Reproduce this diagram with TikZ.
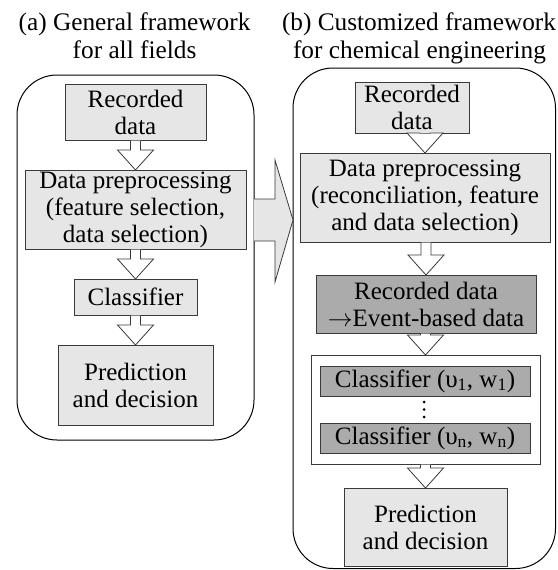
\documentclass[tikz,border=0pt]{standalone}
\usepackage{fontspec}
\setmainfont{Liberation Serif}
\usetikzlibrary{calc}
\definecolor{lightfill}{HTML}{E6E6E6}
\definecolor{darkfill}{HTML}{ABABAB}
\definecolor{edge}{HTML}{3A3A3A}
\newcommand\hollowarrow[2]{%
  \filldraw[harrow] let \p1=(#1.south), \p2=(#2.north) in
    (\x2-5pt,\y1-0.5pt) -- (\x2-5pt,\y2+20pt) -- (\x2-18pt,\y2+20pt) -- (\x2,\y2)
    -- (\x2+18pt,\y2+20pt) -- (\x2+5pt,\y2+20pt) -- (\x2+5pt,\y1-0.5pt);}
\begin{document}
\begin{tikzpicture}[x=1pt,y=-1pt,
  sz/.style 2 args={minimum width=#1pt, minimum height=#2pt},
  boxtext/.style={font=\fontsize{25}{27}\selectfont, align=center, inner sep=0pt, outer sep=0pt},
  lbox/.style={boxtext, draw=edge, line width=0.8pt, fill=lightfill},
  dbox/.style={boxtext, draw=edge, line width=0.8pt, fill=darkfill},
  wbox/.style={draw=edge, line width=0.9pt, fill=white, inner sep=0pt, outer sep=0pt},
  panel/.style={draw=black, line width=1pt, rounded corners=40pt, inner sep=0pt, outer sep=0pt},
  title/.style={font=\fontsize{25.3}{29}\selectfont, anchor=base, inner sep=0pt},
  harrow/.style={draw=edge, line width=0.8pt, fill=white},
  bigarrow/.style={draw=edge, line width=0.8pt, fill=lightfill},
]
\useasboundingbox (0,0) rectangle (557,570);
% panels
\node[panel, sz={237}{365}] (panA) at (135.5,257.5) {};
\node[panel, sz={262.5}{500.5}] (panB) at (424.25,318.25) {};
% titles
\node[title] (titA1) at (134.5,30) {(a) General framework};
\node[title] (titA2) at (134.5,58) {for all fields};
\node[title] (titB1) at (419,30) {(b) Customized framework};
\node[title] (titB2) at (419.5,58) {for chemical engineering};
% left column
\node[lbox, sz={141}{56}] (recA) at (135.5,112) {Recorded\\data};
\node[lbox, sz={221}{79}] (preA) at (135.5,209.5) {Data preprocessing\\(feature selection,\\data selection)};
\node[lbox, sz={123}{36}] (claA) at (135.5,297) {Classifier};
\node[lbox, sz={155}{80}] (predA) at (135.5,385) {Prediction\\and decision};
% right column
\node[lbox, sz={114}{51}] (recB) at (412,107.5) {Recorded\\data};
\node[lbox, sz={250}{89}] (preB) at (425,197.5) {Data preprocessing\\(reconciliation, feature\\and data selection)};
\node[dbox, sz={220}{58}] (evtB) at (426,304) {Recorded data\\$\rightarrow$Event-based data};
\node[wbox, sz={229}{109}] (clsB) at (425.5,409.5) {};
\node[dbox, sz={210}{30}] (cls1) at (425,381) {Classifier (υ\textsubscript{1}, w\textsubscript{1})};
\node[dbox, sz={210}{30}] (clsN) at (425,438) {Classifier (υ\textsubscript{n}, w\textsubscript{n})};
\fill[black] (424,402) circle[radius=1.5pt] (424,409.5) circle[radius=1.5pt] (424,417) circle[radius=1.5pt];
\node[lbox, sz={163}{78}] (predB) at (425.5,527) {Prediction\\and decision};
% hollow arrows
\hollowarrow{recA}{preA}
\hollowarrow{preA}{claA}
\hollowarrow{claA}{predA}
\hollowarrow{recB}{preB}
\hollowarrow{preB}{evtB}
\hollowarrow{evtB}{clsB}
\hollowarrow{clsB}{predB}
% big arrow
\filldraw[bigarrow] let \p1=(panA.east), \p2=(panB.west) in
  (\x1,-199pt) -- (\x1+21pt,-199pt) -- (\x1+21pt,-160pt) -- (\x2,-220pt)
  -- (\x1+21pt,-282pt) -- (\x1+21pt,-241pt) -- (\x1,-241pt);
\end{tikzpicture}
\end{document}
